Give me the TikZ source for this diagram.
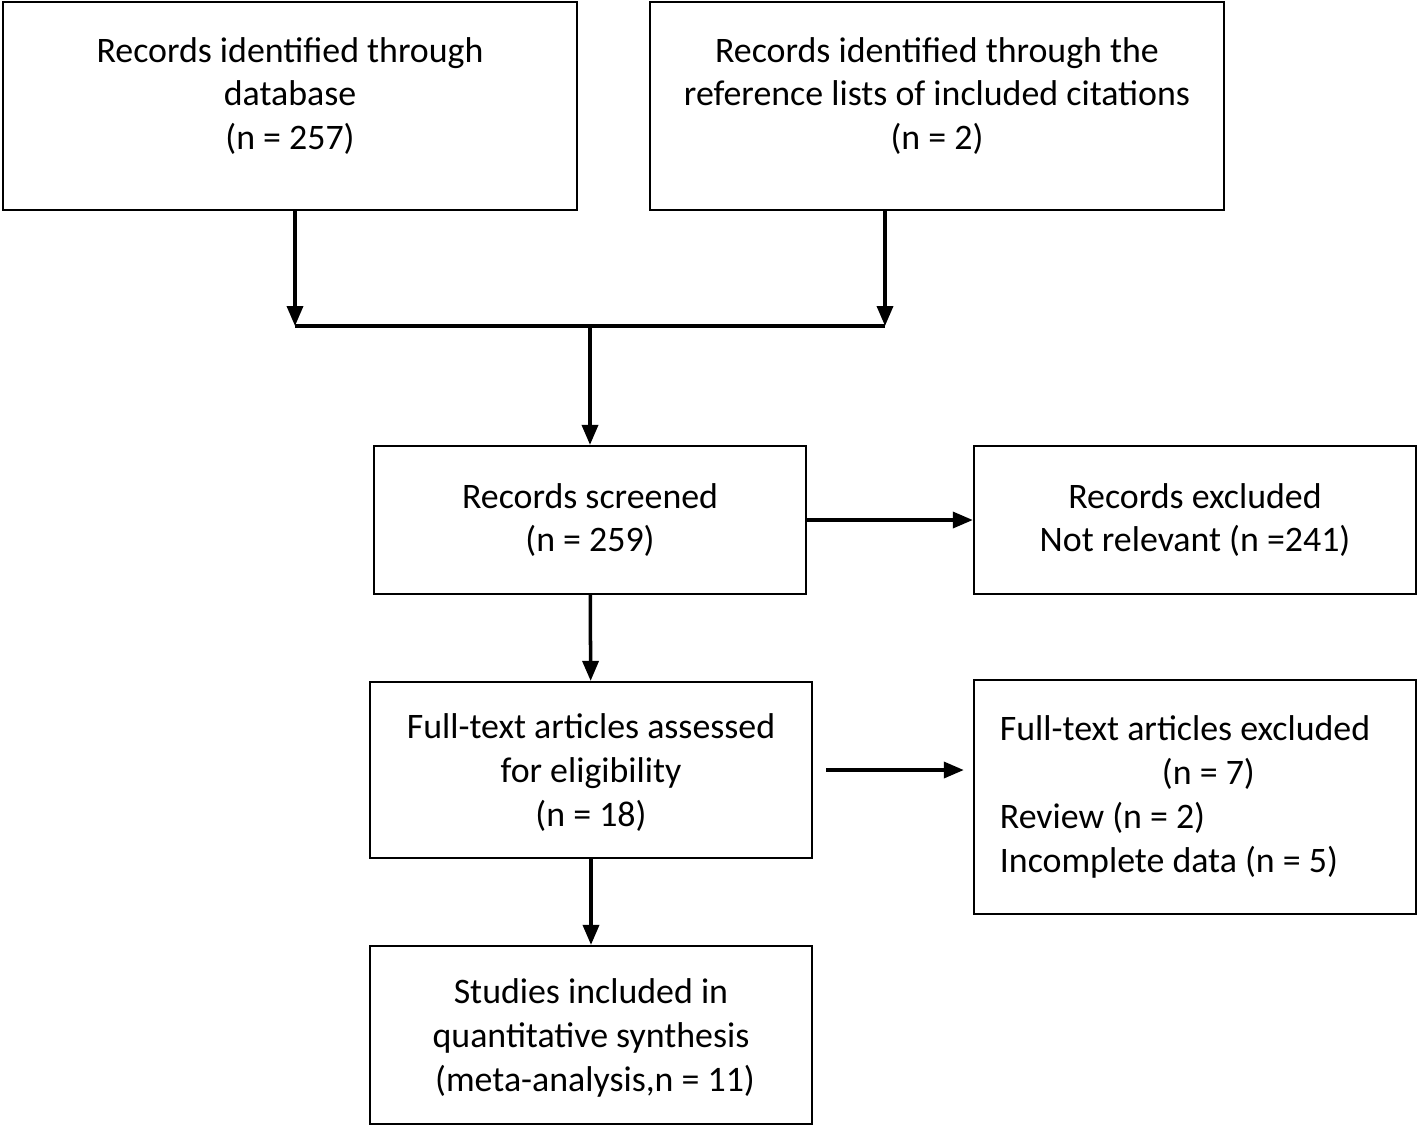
\documentclass[tikz,border=0pt]{standalone}
\usepackage{fontspec}
\setmainfont{Carlito}
\usetikzlibrary{arrows.meta}

\begin{document}
\begin{tikzpicture}[x=0.01cm,y=-0.01cm,->,>={Triangle[length=0.2cm,width=0.16cm]},line width=1pt,
    font=\fontsize{10.2}{12.5}\selectfont,
    base/.style={rectangle,draw,line width=0.6pt,align=center,inner sep=0pt},
    source/.style={base,minimum width=5.74cm,minimum height=2.08cm,text depth=0.25cm},
    stage/.style={base,minimum width=4.42cm}]

    \useasboundingbox (0,0) rectangle (1418,1126);

    \node[source] (DB) at (290,106)
    { Records identified through\\ database\\ (n = 257) };

    \node[source] (REF) at (937,106)
    { Records identified through the\\ reference lists of included citations\\ (n = 2) };

    \node[stage, minimum width=4.31cm, minimum height=1.48cm] (SCR) at (590,520)
    { Records screened\\ (n = 259) };

    \node[stage, minimum height=1.48cm] (EXC) at (1195,520)
    { Records excluded\\ Not relevant (n =241) };

    \node[stage, minimum height=1.76cm, text depth=-0.04cm] (FT) at (591,770)
    { Full-text articles assessed\\ for eligibility\\ (n = 18) };

    \node[stage, minimum height=2.34cm, text width=3.9cm, align=flush left] (FTX) at (1195,797)
    { Full-text articles excluded\\ \hspace*{1.62cm}(n = 7)\\ Review (n = 2)\\ Incomplete data (n = 5) };

    \node[stage, minimum height=1.78cm, text depth=-0.04cm] (INC) at (591,1035)
    { Studies included in\\ quantitative synthesis\\ \ (meta-analysis,n = 11) };

    % merge of the two sources
    \coordinate (JL) at (295,326);
    \coordinate (JR) at (885,326);

    \draw (DB.south -| JL) -- (JL);
    \draw (REF.south -| JR) -- (JR);
    \draw[-] (JL) -- (JR);
    \draw (SCR.north |- JL) -- (SCR);

    \draw (SCR) -- (EXC);
    \draw (SCR) -- (FT);
    \draw[shorten <=0.13cm, shorten >=0.09cm] (FT.east) -- (FT.east -| FTX.west);
    \draw (FT) -- (INC);
\end{tikzpicture}
\end{document}
